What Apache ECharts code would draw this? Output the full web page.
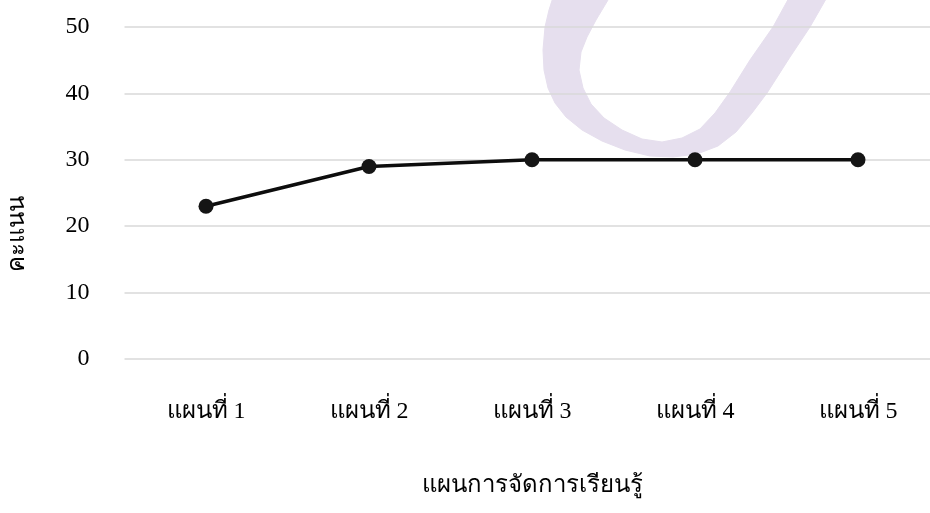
<!DOCTYPE html>
<html>
<head>
<meta charset="utf-8">
<script src="https://cdn.jsdelivr.net/npm/echarts@6/dist/echarts.min.js"></script>
<style>
  html, body { margin: 0; padding: 0; background: #ffffff; }
  #chart { width: 930px; height: 513px; }
</style>
</head>
<body>
<div id="chart"></div>
<script>
// Lesson plans on the category axis
const plans = ['แผนที่ 1', 'แผนที่ 2', 'แผนที่ 3', 'แผนที่ 4', 'แผนที่ 5'];
// Score for each plan
const scores = [23, 29, 30, 30, 30];
// Score axis ticks
const scoreMin = 0;
const scoreMax = 50;
const scoreStep = 10;

const xTitle = 'แผนการจัดการเรียนรู้';
const yTitle = 'คะแนน';

const font = "'Liberation Serif', 'Times New Roman', serif";

// Outline of the soft lavender swash behind the plot (outer edge, then inner edge back)
const swashOutline = [
  [557, -15], [549, 10], [545, 27], [543, 50], [544, 70], [548, 88], [555, 103],
  [566, 117], [582, 130], [602, 141], [625, 150], [650, 156], [673, 157], [697, 154],
  [718, 146], [736, 132], [752, 113], [767, 93], [790, 57], [810, 27], [834, -15],
  [796, -15], [773, 27], [750, 60], [730, 92], [715, 113], [700, 129], [682, 138],
  [662, 142], [642, 139], [622, 130], [604, 118], [591, 104], [583, 88], [579, 70],
  [581, 52], [587, 37], [596, 20], [617, -15]
];

const chart = echarts.init(document.getElementById('chart'), null, { renderer: 'canvas' });

chart.setOption({
  animation: false,
  backgroundColor: '#ffffff',
  grid: {
    left: 124.5, top: 27, width: 815, height: 332,
    outerBoundsMode: 'none', containLabel: false
  },
  graphic: [
    {
      type: 'polygon',
      z: -10,
      silent: true,
      shape: { points: swashOutline },
      style: { fill: '#e6dfee', stroke: '#e6dfee', lineWidth: 1 }
    },
    {
      type: 'text',
      x: 18,
      y: 234,
      rotation: Math.PI / 2,
      silent: true,
      style: {
        text: yTitle,
        fill: '#000000',
        font: "normal 24px 'Liberation Serif', 'Times New Roman', serif",
        textAlign: 'center',
        textVerticalAlign: 'middle'
      }
    }
  ],
  xAxis: {
    type: 'category',
    data: plans,
    boundaryGap: true,
    axisLine: { show: false },
    axisTick: { show: false },
    axisLabel: {
      color: '#000000',
      fontFamily: font,
      fontSize: 24,
      margin: 41
    },
    name: xTitle,
    nameLocation: 'middle',
    nameGap: 115,
    nameTextStyle: { color: '#000000', fontFamily: font, fontSize: 24 }
  },
  yAxis: {
    type: 'value',
    min: scoreMin,
    max: scoreMax,
    interval: scoreStep,
    axisLine: { show: false },
    axisTick: { show: false },
    splitLine: { lineStyle: { color: '#d9d9d9', width: 1.5 } },
    axisLabel: {
      color: '#000000',
      fontFamily: font,
      fontSize: 24,
      margin: 35
    }
  },
  series: [
    {
      type: 'line',
      data: scores,
      symbol: 'circle',
      symbolSize: 15,
      lineStyle: { color: '#0d0d0d', width: 3.5 },
      itemStyle: { color: '#151515' },
      z: 5
    }
  ]
});
</script>
</body>
</html>
